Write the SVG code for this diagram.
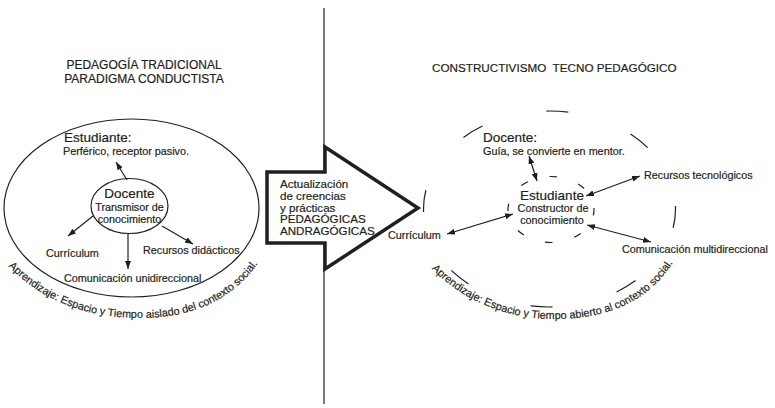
<svg xmlns="http://www.w3.org/2000/svg" width="775" height="408" viewBox="0 0 775 408">
  <style>
    text { font-family: "Liberation Sans", Arial, sans-serif; fill: #231f20; stroke: #231f20; stroke-width: 0.2; }
    .title { font-size: 12px; }
    .head { font-size: 13.5px; }
    .lbl { font-size: 10.8px; }
    .box { font-size: 11.6px; }
    .arc { font-size: 10.8px; }
    .ln { stroke: #231f20; stroke-width: 1.2; fill: none; }
    .one { marker-end: url(#tip); }
    .two { marker-start: url(#tipR); marker-end: url(#tip); }
  </style>
  <defs>
    <marker id="tip" viewBox="0 0 8 6" refX="8" refY="3" markerWidth="8" markerHeight="6" markerUnits="userSpaceOnUse" orient="auto">
      <path d="M0,0 L8,3 L0,6 Z" fill="#231f20"/>
    </marker>
    <marker id="tipR" viewBox="0 0 8 6" refX="8" refY="3" markerWidth="8" markerHeight="6" markerUnits="userSpaceOnUse" orient="auto-start-reverse">
      <path d="M0,0 L8,3 L0,6 Z" fill="#231f20"/>
    </marker>
    <!-- baselines for the curved captions under each circle -->
    <path id="arcLeft" d="M 4,262 C 40,300 85,318 140,318 C 195,318 240,298 266,250"/>
    <path id="arcRight" d="M 426,263 C 460,300 505,319 555,319 C 610,319 655,300 680,250"/>
  </defs>

  <rect width="775" height="408" fill="#ffffff"/>

  <!-- divider -->
  <line x1="324" y1="8" x2="324" y2="404" stroke="#231f20" stroke-width="1.2"/>

  <!-- left panel -->
  <g id="tradicional">
    <text class="title" x="144" y="69" text-anchor="middle">PEDAGOGÍA TRADICIONAL</text>
    <text class="title" x="144" y="83" text-anchor="middle">PARADIGMA CONDUCTISTA</text>
    <ellipse cx="131.5" cy="208" rx="127.5" ry="89" class="ln" stroke-width="1.3"/>
    <text class="arc"><textPath href="#arcLeft" startOffset="6">Aprendizaje: Espacio y Tiempo aislado del contexto social.</textPath></text>
  </g>

  <g id="estudiante-l">
    <text class="head" x="64" y="142">Estudiante:</text>
    <text class="lbl" x="63" y="155">Perférico, receptor pasivo.</text>
  </g>

  <g id="docente-l">
    <ellipse cx="129.5" cy="206" rx="38.5" ry="27.5" class="ln"/>
    <text class="head" x="129.5" y="198" text-anchor="middle">Docente</text>
    <text class="lbl" x="129.5" y="211" text-anchor="middle">Transmisor de</text>
    <text class="lbl" x="129.5" y="223" text-anchor="middle">conocimiento</text>
  </g>

  <g id="curriculum-l">
    <text class="lbl" x="46" y="257">Currículum</text>
  </g>
  <g id="recursos-l">
    <text class="lbl" x="143" y="254">Recursos didácticos</text>
  </g>
  <g id="comunicacion-l">
    <text class="lbl" x="64" y="282">Comunicación unidireccional</text>
  </g>

  <!-- transition arrow -->
  <g id="actualizacion">
    <polygon points="267,172 325,172 325,147 418,208 325,269 325,243 267,243" fill="#ffffff" stroke="#231f20" stroke-width="3.5" stroke-linejoin="miter"/>
    <text class="box" x="280" y="188">Actualización</text>
    <text class="box" x="280" y="199.8">de creencias</text>
    <text class="box" x="280" y="211.5">y prácticas</text>
    <text class="box" x="280" y="223.3">PEDAGÓGICAS</text>
    <text class="box" x="280" y="235">ANDRAGÓGICAS</text>
  </g>

  <!-- right panel -->
  <g id="constructivismo">
    <text class="title" x="432" y="72" xml:space="preserve" style="font-size:11.7px">CONSTRUCTIVISMO  TECNO PEDAGÓGICO</text>
    <ellipse cx="549.5" cy="209" rx="126" ry="98" class="ln" pathLength="800" stroke-dasharray="25 75" stroke-dashoffset="3.5"/>
    <text class="arc"><textPath href="#arcRight" startOffset="8">Aprendizaje: Espacio y Tiempo abierto al contexto social.</textPath></text>
  </g>

  <g id="docente-r">
    <text class="head" x="483" y="142">Docente:</text>
    <text class="lbl" x="483" y="155">Guía, se convierte en mentor.</text>
  </g>

  <g id="estudiante-r">
    <ellipse cx="551" cy="209.5" rx="43" ry="33" class="ln" pathLength="240" stroke-dasharray="7.5 22.5" stroke-dashoffset="1.5"/>
    <text class="head" x="552" y="200" text-anchor="middle">Estudiante</text>
    <text class="lbl" x="553" y="212" text-anchor="middle">Constructor de</text>
    <text class="lbl" x="552" y="224" text-anchor="middle">conocimiento</text>
  </g>

  <g id="recursos-r">
    <text class="lbl" x="644" y="179">Recursos tecnológicos</text>
  </g>
  <g id="curriculum-r">
    <text class="lbl" x="388" y="239">Currículum</text>
  </g>
  <g id="comunicacion-r">
    <text class="lbl" x="622" y="253">Comunicación multidireccional</text>
  </g>

  <!-- connectors -->
  <g id="connectors">
    <line class="ln one" x1="127" y1="180" x2="116" y2="162"/>
    <line class="ln one" x1="93" y1="216" x2="68" y2="236"/>
    <line class="ln one" x1="128" y1="234" x2="128" y2="269"/>
    <line class="ln one" x1="162" y1="226" x2="193" y2="244"/>

    <line class="ln two" x1="537" y1="181" x2="529" y2="156"/>
    <line class="ln two" x1="586" y1="196" x2="640" y2="176"/>
    <line class="ln two" x1="513" y1="214" x2="447" y2="234"/>
    <line class="ln two" x1="587" y1="225" x2="651" y2="242"/>
  </g>
</svg>
